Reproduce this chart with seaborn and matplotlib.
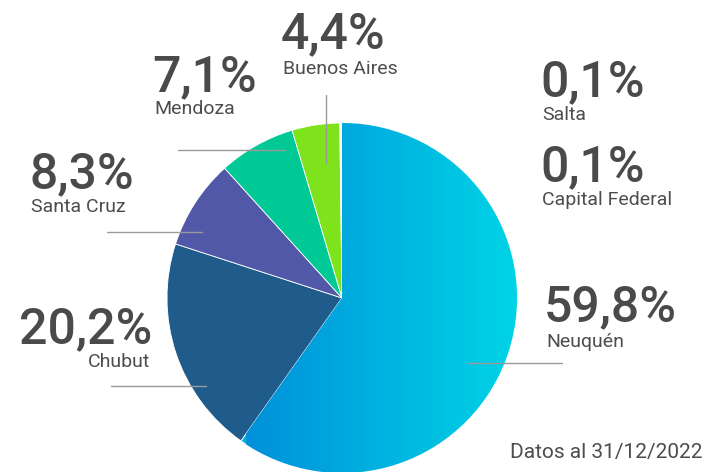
import numpy as np
import matplotlib
matplotlib.use("Agg")
import matplotlib.pyplot as plt
import seaborn as sns
from matplotlib.colors import LinearSegmentedColormap

provincias = ["Neuquén", "Chubut", "Santa Cruz", "Mendoza", "Buenos Aires", "Salta", "Capital Federal"]
porcentajes = [59.8, 20.2, 8.3, 7.1, 4.4, 0.1, 0.1]
etiquetas = ["59,8%", "20,2%", "8,3%", "7,1%", "4,4%", "0,1%", "0,1%"]
colores = ["#00b4e0", "#1f5c8c", "#5258a8", "#00c995", "#7ee31b", "#f2f2f2", "#f2f2f2"]
nota = "Datos al 31/12/2022"

sns.set_theme(style="white")
plt.rcParams["font.family"] = ["Roboto", "DejaVu Sans"]

W, H = 710, 472
fig = plt.figure(figsize=(7.1, 4.72), dpi=100)
ax = fig.add_axes([0, 0, 1, 1])

cx, cy, r = 342, H - 298, 175
wedges, _ = ax.pie(porcentajes, colors=colores, startangle=90, counterclock=False,
                   center=(cx, cy), radius=r,
                   wedgeprops=dict(edgecolor="white", linewidth=0.6))

# degradado horizontal en Neuquén
grad = LinearSegmentedColormap.from_list("neu", ["#0090da", "#00d4e6"])
img = ax.imshow(np.linspace(0, 1, 256).reshape(1, -1), cmap=grad, aspect="auto",
                extent=(cx - r * 0.55, cx + r, cy - r, cy + r), zorder=wedges[0].get_zorder() + 0.1)
img.set_clip_path(wedges[0])

ax.set_xlim(0, W)
ax.set_ylim(0, H)
ax.axis("off")

def yy(v):
    return H - v

# posiciones de etiquetas (x, baseline porcentaje, baseline nombre, alineación)
pos = {
    "Neuquén": (544, 321, 347, "left"),
    "Chubut": (152, 343, 367, "right"),
    "Santa Cruz": (29, 188, 212, "left"),
    "Mendoza": (152, 91, 114, "left"),
    "Buenos Aires": (281, 48, 74, "left"),
    "Salta": (540, 96, 120, "left"),
    "Capital Federal": (540, 181, 205, "left"),
}
for prov, et in zip(provincias, etiquetas):
    x, yb1, yb2, ha = pos[prov]
    ax.text(x, yy(yb1), et, fontsize=36, fontweight="medium", color="#4a4a4a",
            ha=ha, va="baseline")
    ax.text(x + (2 if ha == "left" else -2), yy(yb2), prov, fontsize=14, color="#4d4d4d",
            ha=ha, va="baseline")

# líneas guía
lineas = [((467, 562), (363, 363)), ((111, 206), (386, 386)), ((107, 202), (232, 232)),
          ((178, 285), (150, 150)), ((326, 326), (95, 163))]
for xs, ys in lineas:
    ax.plot(xs, [yy(v) for v in ys], color="#9a9a9a", lw=1, zorder=5)

ax.text(703, yy(458), nota, fontsize=15, color="#4d4d4d", ha="right", va="baseline")

fig.savefig("out.png", dpi=100)
